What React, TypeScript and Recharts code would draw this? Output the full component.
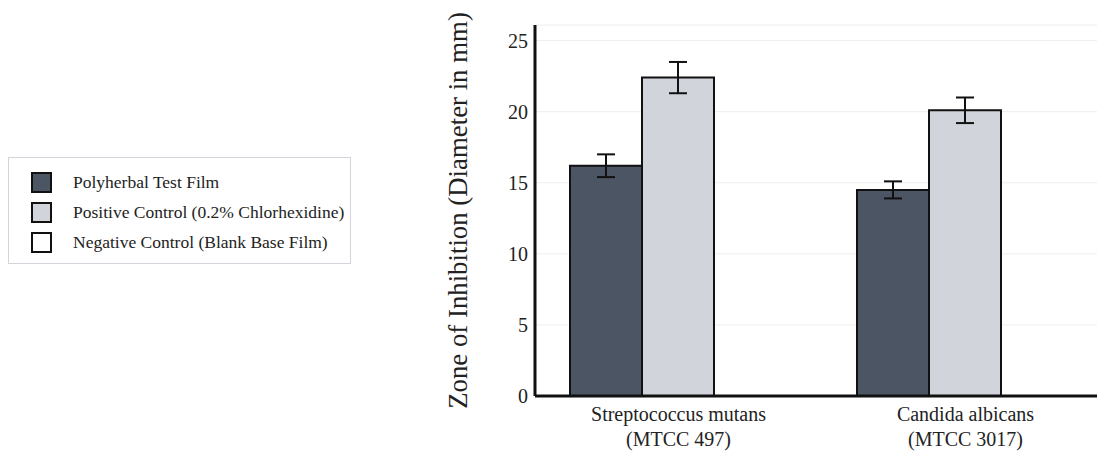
import React from 'react';
import {
  BarChart,
  Bar,
  XAxis,
  YAxis,
  CartesianGrid,
  ErrorBar,
} from 'recharts';

const organisms = ['Streptococcus mutans', 'Candida albicans'];
const strains = ['(MTCC 497)', '(MTCC 3017)'];

const seriesNames = [
  'Polyherbal Test Film',
  'Positive Control (0.2% Chlorhexidine)',
  'Negative Control (Blank Base Film)',
];
const seriesKeys = ['test', 'positive', 'negative'];
const COLORS = ['#4b5563', '#d1d5db', '#ffffff']; // gray-600, gray-300, white

const testFilm = [16.2, 14.5];
const testFilmErr = [0.8, 0.6];
const positiveControl = [22.4, 20.1];
const positiveControlErr = [1.1, 0.9];
const negativeControl = [0, 0];
const negativeControlErr = [0, 0];

const yTicks = [0, 5, 10, 15, 20, 25];

const FONT = "'Times New Roman', 'Liberation Serif', serif";

const data = organisms.map((name, i) => ({
  name,
  strain: strains[i],
  test: testFilm[i],
  testErr: testFilmErr[i],
  positive: positiveControl[i],
  positiveErr: positiveControlErr[i],
  negative: negativeControl[i],
  negativeErr: negativeControlErr[i],
}));

const CategoryTick = (props: any) => {
  const { x, y, payload, index } = props;
  return (
    <text x={x} y={y} textAnchor="middle" fontSize={20} fill="#222" fontFamily={FONT}>
      <tspan x={x} dy={17}>{payload.value}</tspan>
      <tspan x={x} dy={25}>{strains[index]}</tspan>
    </text>
  );
};

const LegendBox = () => (
  <div
    style={{
      position: 'absolute',
      left: 8,
      top: 157,
      width: 343,
      height: 107,
      boxSizing: 'border-box',
      border: '1px solid #d1d5db',
      paddingTop: 9,
      paddingLeft: 22,
      fontFamily: FONT,
      fontSize: 17.5,
      color: '#222',
    }}
  >
    {seriesNames.map((name, i) => (
      <div key={name} style={{ display: 'flex', alignItems: 'center', height: 30 }}>
        <span
          style={{
            display: 'inline-block',
            width: 21,
            height: 21,
            boxSizing: 'border-box',
            border: '2.5px solid #111',
            background: COLORS[i],
            marginRight: 21,
          }}
        />
        <span>{name}</span>
      </div>
    ))}
  </div>
);

export default function App() {
  return (
    <div
      style={{
        position: 'absolute',
        left: 0,
        top: 0,
        width: 1097,
        height: 452,
        overflow: 'hidden',
        background: '#fff',
        fontFamily: FONT,
      }}
    >
      <LegendBox />
      <BarChart
        width={1120}
        height={452}
        data={data}
        margin={{ top: 25, right: 11, bottom: 0, left: 0 }}
        barCategoryGap={35}
        barGap={0}
      >
        <CartesianGrid vertical={false} stroke="#eeeeee" />
        <XAxis
          dataKey="name"
          height={56}
          interval={0}
          tickLine={false}
          tickSize={6}
          tickMargin={2}
          tick={<CategoryTick />}
          axisLine={{ stroke: '#111', strokeWidth: 3 }}
        />
        <XAxis
          xAxisId="top"
          dataKey="name"
          orientation="top"
          height={0}
          tick={false}
          tickLine={false}
          axisLine={{ stroke: '#111', strokeWidth: 3 }}
        />
        <YAxis
          width={535}
          domain={[0, 26.1]}
          ticks={yTicks}
          tickLine={false}
          tickSize={5}
          tickMargin={2}
          axisLine={{ stroke: '#111', strokeWidth: 3 }}
          tick={{ fontSize: 20, fill: '#222', fontFamily: FONT }}
          label={{
            value: 'Zone of Inhibition (Diameter in mm)',
            angle: -90,
            position: 'center',
            dx: 190,
            style: { fontSize: 26.8, fill: '#222', fontFamily: FONT, textAnchor: 'middle' },
          }}
        />
        {seriesKeys.map((key, i) => (
          <Bar
            key={key}
            dataKey={key}
            name={seriesNames[i]}
            fill={COLORS[i]}
            stroke="#111"
            strokeWidth={2}
            isAnimationActive={false}
          >
            {key !== 'negative' && (
              <ErrorBar dataKey={`${key}Err`} width={9} stroke="#111" strokeWidth={2} />
            )}
          </Bar>
        ))}
      </BarChart>
    </div>
  );
}
